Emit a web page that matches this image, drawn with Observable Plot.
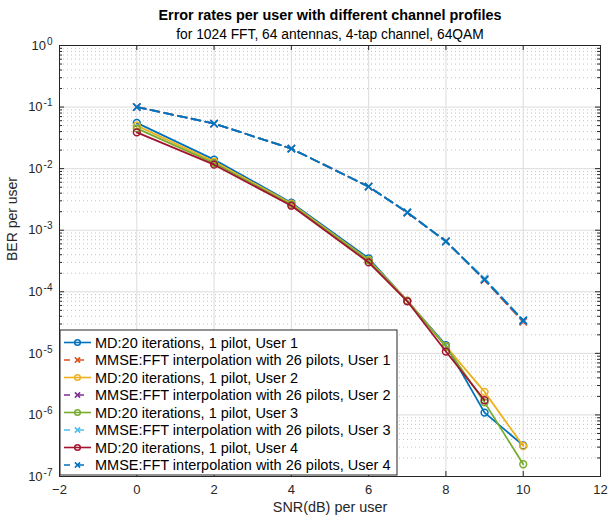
<!DOCTYPE html>
<html><head><meta charset="utf-8">
<script src="https://cdn.jsdelivr.net/npm/d3@7"></script>
<script src="https://cdn.jsdelivr.net/npm/@observablehq/plot@0.6"></script>
<style>
body{margin:0;background:#fff;}
#chart svg{font-family:"Liberation Sans",Arial,Helvetica,sans-serif;overflow:visible;}
</style>
</head><body><div id="chart"></div>
<script>
// ---- data ----
const snr = [0, 2, 4, 6, 7, 8, 9, 10];
const mdUser1   = [0.0553, 0.0140, 0.00280, 3.5e-4, 7.1e-5, 1.36e-5, 1.09e-6, 3.2e-7];
const mmseUser1 = [0.101, 0.054, 0.0211, 0.0051, 0.00194, 6.6e-4, 1.55e-4, 3.25e-5];
const mdUser2   = [0.0500, 0.0130, 0.00270, 3.3e-4, 7.2e-5, 1.30e-5, 2.37e-6, 3.13e-7];
const mmseUser2 = [0.100, 0.054, 0.0211, 0.0051, 0.00194, 6.6e-4, 1.6e-4, 3.35e-5];
const mdUser3   = [0.0452, 0.0123, 0.00260, 3.2e-4, 7.1e-5, 1.28e-5, 1.6e-6, 1.58e-7];
const mmseUser3 = [0.100, 0.054, 0.0211, 0.0051, 0.00196, 6.5e-4, 1.65e-4, 3.4e-5];
const mdUser4   = [0.0389, 0.0116, 0.00250, 3.0e-4, 7.0e-5, 1.07e-5, 1.73e-6, null];
const mmseUser4 = [0.100, 0.054, 0.0211, 0.0051, 0.00194, 6.6e-4, 1.58e-4, 3.45e-5];

const seriesNames = [
  "MD:20 iterations, 1 pilot, User 1",
  "MMSE:FFT interpolation with 26 pilots, User 1",
  "MD:20 iterations, 1 pilot, User 2",
  "MMSE:FFT interpolation with 26 pilots, User 2",
  "MD:20 iterations, 1 pilot, User 3",
  "MMSE:FFT interpolation with 26 pilots, User 3",
  "MD:20 iterations, 1 pilot, User 4",
  "MMSE:FFT interpolation with 26 pilots, User 4"
];
const seriesColors = ["#0072BD","#D95319","#EDB120","#7E2F8E","#77AC30","#4DBEEE","#A2142F","#0072BD"];
const xTicks = [-2, 0, 2, 4, 6, 8, 10, 12];
const yTickExponents = [0, -1, -2, -3, -4, -5, -6, -7];
const titleText = "Error rates per user with different channel profiles";
const subtitleText = "for 1024 FFT, 64 antennas, 4-tap channel, 64QAM";
const xLabel = "SNR(dB) per user";
const yLabel = "BER per user";

// ---- layout ----
const W = 610, H = 516, mL = 59, mR = 10, mT = 45, mB = 40;
const pw = W - mL - mR, ph = H - mT - mB;
const axisColor = "#262626";

const seriesValues = [mdUser1, mmseUser1, mdUser2, mmseUser2, mdUser3, mmseUser3, mdUser4, mmseUser4];
const yMajor = yTickExponents.map(e => Math.pow(10, e));
const yMinor = [];
for (let e = -7; e < 0; e++) for (let k = 2; k <= 9; k++) yMinor.push(k * Math.pow(10, e));

const seriesMarks = [];
seriesValues.forEach((vals, i) => {
  const rows = [];
  vals.forEach((v, j) => { if (v != null) rows.push({snr: snr[j], ber: v}); });
  const isMD = i % 2 === 0;
  seriesMarks.push(Plot.line(rows, {x: "snr", y: "ber", stroke: seriesColors[i], strokeWidth: 1.8,
    strokeDasharray: isMD ? null : "9,5"}));
  seriesMarks.push(Plot.dot(rows, {x: "snr", y: "ber", stroke: seriesColors[i], fill: "none",
    strokeWidth: 1.5, r: 3.4, symbol: isMD ? "circle" : "times"}));
});

const chart = Plot.plot({
  width: W, height: H,
  marginLeft: mL, marginRight: mR, marginTop: mT, marginBottom: mB,
  style: {fontFamily: '"Liberation Sans",Arial,Helvetica,sans-serif', fontSize: "13px", color: axisColor},
  x: {domain: [-2, 12]},
  y: {type: "log", domain: [1e-7, 1]},
  marks: [
    Plot.ruleY(yMinor, {y: d => d, stroke: "#c4c4c4", strokeDasharray: "1,3", strokeWidth: 1}),
    Plot.gridX(xTicks, {stroke: "#dcdcdc", strokeOpacity: 1, strokeWidth: 1}),
    Plot.gridY(yMajor, {stroke: "#dcdcdc", strokeOpacity: 1, strokeWidth: 1}),
    ...seriesMarks,
    Plot.frame({stroke: axisColor, strokeWidth: 1}),
    // inward ticks
    Plot.tickX(xTicks, {x: d => d, insetTop: ph - 5, stroke: axisColor}),
    Plot.tickX(xTicks, {x: d => d, insetBottom: ph - 5, stroke: axisColor}),
    Plot.tickY(yMajor, {y: d => d, insetRight: pw - 5, stroke: axisColor}),
    Plot.tickY(yMajor, {y: d => d, insetLeft: pw - 5, stroke: axisColor}),
    Plot.tickY(yMinor, {y: d => d, insetRight: pw - 3, stroke: axisColor}),
    Plot.tickY(yMinor, {y: d => d, insetLeft: pw - 3, stroke: axisColor}),
    Plot.axisX(xTicks, {tickSize: 0, tickPadding: 8, fontSize: 13, label: null}),
    Plot.axisY(yMajor, {tickSize: 0, tickPadding: 7, fontSize: 13, label: null,
      tickFormat: d => "10^" + Math.round(Math.log10(d))}),
    Plot.text([xLabel], {text: d => d, frameAnchor: "bottom", dy: 35, fontSize: 14.4, fill: axisColor}),
    Plot.text([yLabel], {text: d => d, frameAnchor: "left", rotate: -90, dx: -47, fontSize: 14, fill: axisColor}),
    Plot.text([titleText], {text: d => d, frameAnchor: "top", dy: -36, fontSize: 14.4, fontWeight: "bold", fill: "#000"}),
    Plot.text([subtitleText], {text: d => d, frameAnchor: "top", dy: -16, fontSize: 13.8, fill: "#000"})
  ]
});
document.getElementById("chart").appendChild(chart);

// superscripts for y tick labels
const svg = d3.select(chart);
svg.selectAll("text").each(function() {
  const t = d3.select(this);
  const s = t.text();
  if (/^10\^-?\d+$/.test(s)) {
    const exp = s.split("^")[1];
    t.text(null);
    t.append("tspan").text("10");
    t.append("tspan").attr("dx", "1").attr("dy", "-0.5em").attr("font-size", "10px").text(exp);
  }
});

// legend inside plot (bottom-left)
const lg = svg.append("g").attr("class", "legend");
const lx = mL + 1, ly = 330, lw = 337, lh = H - mB - ly - 1;
lg.append("rect").attr("x", lx).attr("y", ly).attr("width", lw).attr("height", lh)
  .attr("fill", "#fff").attr("stroke", axisColor).attr("stroke-width", 1);
seriesNames.forEach((name, i) => {
  const y = ly + 12.5 + i * 17.5;
  const isMD = i % 2 === 0;
  const g = lg.append("g");
  g.append("line").attr("x1", lx + 4).attr("x2", lx + 31).attr("y1", y).attr("y2", y)
    .attr("stroke", seriesColors[i]).attr("stroke-width", 1.6)
    .attr("stroke-dasharray", isMD ? null : "6,8");
  const cx = lx + 17.5;
  if (isMD) {
    g.append("circle").attr("cx", cx).attr("cy", y).attr("r", 2.8).attr("fill", "none")
      .attr("stroke", seriesColors[i]).attr("stroke-width", 1.5);
  } else {
    const s = 2.6;
    g.append("path").attr("d", `M${cx-s},${y-s}L${cx+s},${y+s}M${cx-s},${y+s}L${cx+s},${y-s}`)
      .attr("stroke", seriesColors[i]).attr("stroke-width", 1.5);
  }
  g.append("text").attr("x", lx + 35).attr("y", y).attr("dy", "0.35em")
    .attr("text-anchor", "start")
    .attr("font-size", 14.5).attr("fill", "#000").text(name);
});
</script>
</body></html>
